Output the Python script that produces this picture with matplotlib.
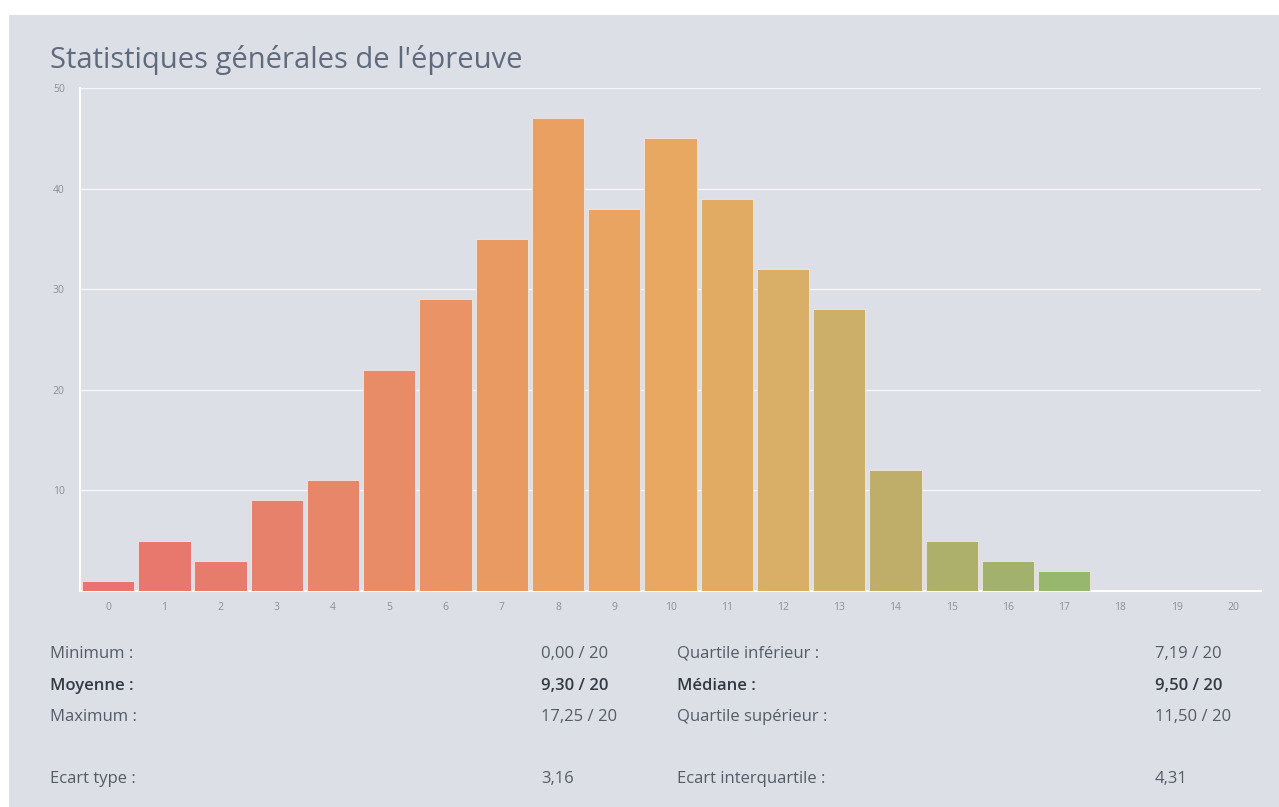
import matplotlib.pyplot as plt
from matplotlib.patches import Rectangle

plt.rcParams['font.family'] = ['Open Sans', 'DejaVu Sans']

notes = [str(i) for i in range(21)]
effectifs = [1, 5, 3, 9, 11, 22, 29, 35, 47, 38, 45, 39, 32, 28, 12, 5, 3, 2, 0, 0, 0]
couleurs = ['#e8736f', '#e8776d', '#e87c6c', '#e8816b', '#e8866a', '#e88c68',
            '#e99366', '#e99a63', '#eaa060', '#e9a461', '#e8a862', '#e2ab64',
            '#d9ae66', '#ccaf68', '#bfae6a', '#adb06b', '#a2b26c', '#97b76c',
            '#90b86c', '#8ab96c', '#84ba6c']

stats_gauche = [('Minimum :', '0,00 / 20', False), ('Moyenne :', '9,30 / 20', True),
                ('Maximum :', '17,25 / 20', False), ('Ecart type :', '3,16', False)]
stats_droite = [('Quartile inférieur :', '7,19 / 20', False), ('Médiane :', '9,50 / 20', True),
                ('Quartile supérieur :', '11,50 / 20', False), ('Ecart interquartile :', '4,31', False)]

W, H = 1279, 807
fig = plt.figure(figsize=(W / 100, H / 100), dpi=100)
fig.patch.set_facecolor('white')
fond = '#dcdfe6'
fig.patches.append(Rectangle((9 / W, 0), 1, 1 - 15 / H, transform=fig.transFigure,
                             facecolor=fond, edgecolor='none', zorder=-5))

ax = fig.add_axes([80 / W, 1 - 591 / H, (1261 - 80) / W, (591 - 88) / H])
ax.set_facecolor(fond)
ax.bar(range(len(notes)), effectifs, width=0.93, color=couleurs,
       edgecolor='#f3e6df', linewidth=0.6, zorder=3)
ax.set_xlim(-0.5, 20.5)
ax.set_ylim(0, 50)
ax.set_xticks(range(len(notes)))
ax.set_xticklabels(notes)
ax.set_yticks([10, 20, 30, 40, 50])
ax.tick_params(length=0, labelsize=7.5, colors='#8a8f98')
ax.tick_params(axis='x', pad=8)
ax.tick_params(axis='y', pad=11)
ax.grid(axis='y', color='white', linewidth=1, alpha=0.75, zorder=1)
for s in ['top', 'right']:
    ax.spines[s].set_visible(False)
for s in ['left', 'bottom']:
    ax.spines[s].set_color('white')
    ax.spines[s].set_linewidth(1.5)

fig.text(50 / W, 1 - 60 / H, "Statistiques générales de l'épreuve", fontsize=21,
         color='#5f6b7d', va='center', ha='left')

# lignes de stats (position de la ligne de base)
lignes_y = [658, 690, 721, 783]
for (lab, val, gras), yy in zip(stats_gauche, lignes_y):
    poids = 'semibold' if gras else 'normal'
    col = '#333a44' if gras else '#555b66'
    fig.text(50 / W, 1 - yy / H, lab, fontsize=12, color=col, weight=poids, va='baseline')
    fig.text(541 / W, 1 - yy / H, val, fontsize=12, color=col, weight=poids, va='baseline')
for (lab, val, gras), yy in zip(stats_droite, lignes_y):
    poids = 'semibold' if gras else 'normal'
    col = '#333a44' if gras else '#555b66'
    fig.text(677 / W, 1 - yy / H, lab, fontsize=12, color=col, weight=poids, va='baseline')
    fig.text(1155 / W, 1 - yy / H, val, fontsize=12, color=col, weight=poids, va='baseline')

fig.savefig('out.png', dpi=100)
